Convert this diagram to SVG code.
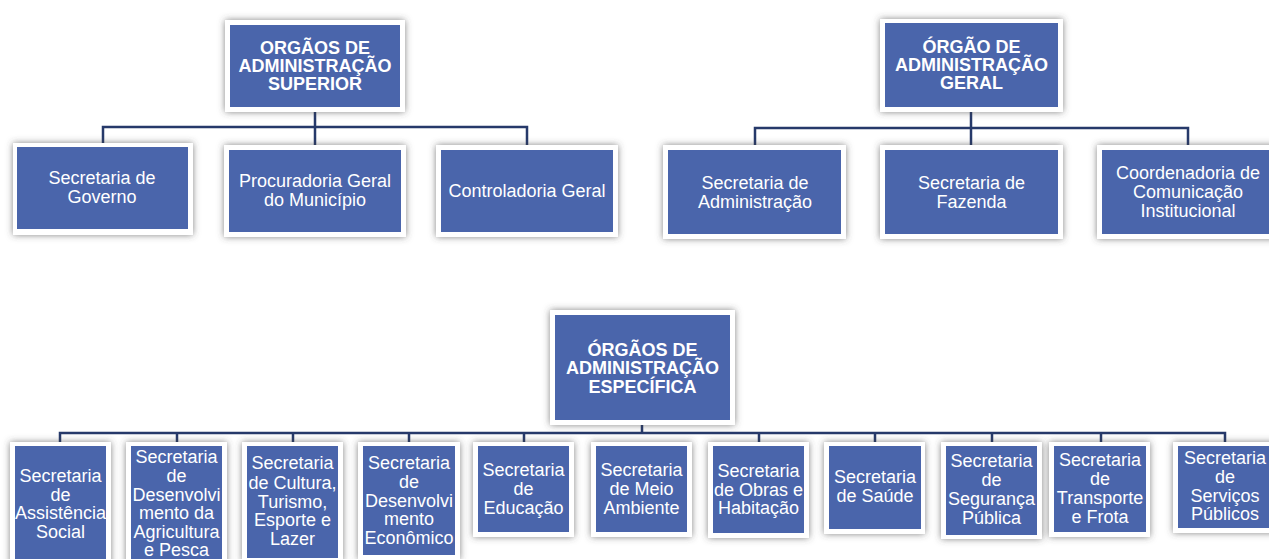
<svg xmlns="http://www.w3.org/2000/svg" width="1269" height="559" viewBox="0 0 1269 559">
<defs>
<filter id="sh" x="-20%" y="-20%" width="140%" height="140%">
<feDropShadow dx="0" dy="0" stdDeviation="3.5" flood-color="#444" flood-opacity="0.65"/>
</filter>
<style>
.frame{fill:#ffffff;filter:url(#sh)}
.box{fill:#4A65AB}
.t{font-family:"Liberation Sans",Arial,sans-serif;font-size:18px;fill:#ffffff;text-anchor:middle}
.b{font-weight:bold}
.ln{stroke:#26396A;stroke-width:2.5;fill:none}
</style>
</defs>
<rect width="1269" height="559" fill="#ffffff"/>
<g id="connectors">
<path class="ln" d="M315 112V127M103 145V127H527V145M315 127V145"/>
<path class="ln" d="M971 112V128M755 146V128H1188V146M971 128V146"/>
<path class="ln" d="M642 425V433M60 442V433H1225V442M177 433V442M293 433V442M409 433V442M524 433V442M759 433V442M875 433V442M992 433V442M1101 433V442"/>
</g>
<g id="n-superior">
<rect class="frame" x="225" y="20" width="180" height="92"/>
<rect class="box" x="230" y="25" width="170" height="82"/>
<text class="t b" x="315" y="54">ORGÃOS DE</text>
<text class="t b" x="315" y="72">ADMINISTRAÇÃO</text>
<text class="t b" x="315" y="90">SUPERIOR</text>
</g>
<g id="n-governo">
<rect class="frame" x="13" y="143" width="180" height="92"/>
<rect class="box" x="17" y="147" width="171" height="82"/>
<text class="t" x="102" y="184">Secretaria de</text>
<text class="t" x="102" y="203">Governo</text>
</g>
<g id="n-procuradoria">
<rect class="frame" x="224" y="145" width="182" height="92"/>
<rect class="box" x="229" y="150" width="172" height="82"/>
<text class="t" x="315" y="187">Procuradoria Geral</text>
<text class="t" x="315" y="206">do Município</text>
</g>
<g id="n-controladoria">
<rect class="frame" x="436" y="145" width="182" height="92"/>
<rect class="box" x="441" y="150" width="172" height="82"/>
<text class="t" x="527" y="197">Controladoria Geral</text>
</g>
<g id="n-geral">
<rect class="frame" x="880" y="19" width="183" height="93"/>
<rect class="box" x="885" y="23" width="173" height="84"/>
<text class="t b" x="971.5" y="53">ÓRGÃO DE</text>
<text class="t b" x="971.5" y="71">ADMINISTRAÇÃO</text>
<text class="t b" x="971.5" y="89">GERAL</text>
</g>
<g id="n-administracao">
<rect class="frame" x="663" y="145" width="183" height="94"/>
<rect class="box" x="668" y="150" width="173" height="84"/>
<text class="t" x="755" y="189">Secretaria de</text>
<text class="t" x="755" y="208">Administração</text>
</g>
<g id="n-fazenda">
<rect class="frame" x="880" y="145" width="183" height="94"/>
<rect class="box" x="885" y="150" width="173" height="84"/>
<text class="t" x="971.5" y="189">Secretaria de</text>
<text class="t" x="971.5" y="208">Fazenda</text>
</g>
<g id="n-comunicacao">
<rect class="frame" x="1097" y="145" width="183" height="94"/>
<rect class="box" x="1102" y="150" width="173" height="84"/>
<text class="t" x="1188" y="179">Coordenadoria de</text>
<text class="t" x="1188" y="198">Comunicação</text>
<text class="t" x="1188" y="217">Institucional</text>
</g>
<g id="n-especifica">
<rect class="frame" x="550" y="310" width="185" height="115"/>
<rect class="box" x="555" y="315" width="175" height="105"/>
<text class="t b" x="642.5" y="356">ÓRGÃOS DE</text>
<text class="t b" x="642.5" y="374">ADMINISTRAÇÃO</text>
<text class="t b" x="642.5" y="393">ESPECÍFICA</text>
</g>
<g id="n-assistencia">
<rect class="frame" x="10" y="442" width="101" height="125"/>
<rect class="box" x="15" y="446" width="91" height="120"/>
<text class="t" x="60.5" y="482">Secretaria</text>
<text class="t" x="60.5" y="501">de</text>
<text class="t" x="60.5" y="519">Assistência</text>
<text class="t" x="60.5" y="538">Social</text>
</g>
<g id="n-agricultura">
<rect class="frame" x="126" y="442" width="101" height="125"/>
<rect class="box" x="131" y="446" width="91" height="120"/>
<text class="t" x="176.5" y="463">Secretaria</text>
<text class="t" x="176.5" y="482">de</text>
<text class="t" x="176.5" y="501">Desenvolvi</text>
<text class="t" x="176.5" y="519">mento da</text>
<text class="t" x="176.5" y="538">Agricultura</text>
<text class="t" x="176.5" y="556">e Pesca</text>
</g>
<g id="n-cultura">
<rect class="frame" x="242" y="442" width="101" height="120"/>
<rect class="box" x="247" y="446" width="91" height="112"/>
<text class="t" x="292.5" y="469">Secretaria</text>
<text class="t" x="292.5" y="489">de Cultura,</text>
<text class="t" x="292.5" y="508">Turismo,</text>
<text class="t" x="292.5" y="526">Esporte e</text>
<text class="t" x="292.5" y="545">Lazer</text>
</g>
<g id="n-economico">
<rect class="frame" x="358" y="442" width="102" height="118"/>
<rect class="box" x="363" y="446" width="92" height="109"/>
<text class="t" x="409" y="469">Secretaria</text>
<text class="t" x="409" y="488">de</text>
<text class="t" x="409" y="507">Desenvolvi</text>
<text class="t" x="409" y="525">mento</text>
<text class="t" x="409" y="544">Econômico</text>
</g>
<g id="n-educacao">
<rect class="frame" x="473" y="442" width="101" height="95"/>
<rect class="box" x="478" y="446" width="91" height="86"/>
<text class="t" x="523.5" y="476">Secretaria</text>
<text class="t" x="523.5" y="495">de</text>
<text class="t" x="523.5" y="514">Educação</text>
</g>
<g id="n-meioambiente">
<rect class="frame" x="591" y="442" width="101" height="95"/>
<rect class="box" x="596" y="446" width="91" height="86"/>
<text class="t" x="641.5" y="476">Secretaria</text>
<text class="t" x="641.5" y="495">de Meio</text>
<text class="t" x="641.5" y="514">Ambiente</text>
</g>
<g id="n-obras">
<rect class="frame" x="708" y="442" width="101" height="96"/>
<rect class="box" x="713" y="446" width="91" height="87"/>
<text class="t" x="758.5" y="477">Secretaria</text>
<text class="t" x="758.5" y="496">de Obras e</text>
<text class="t" x="758.5" y="514">Habitação</text>
</g>
<g id="n-saude">
<rect class="frame" x="824" y="442" width="101" height="92"/>
<rect class="box" x="829" y="446" width="92" height="83"/>
<text class="t" x="875" y="483">Secretaria</text>
<text class="t" x="875" y="502">de Saúde</text>
</g>
<g id="n-seguranca">
<rect class="frame" x="941" y="442" width="101" height="97"/>
<rect class="box" x="946" y="446" width="91" height="89"/>
<text class="t" x="991.5" y="467">Secretaria</text>
<text class="t" x="991.5" y="486">de</text>
<text class="t" x="991.5" y="505">Segurança</text>
<text class="t" x="991.5" y="524">Pública</text>
</g>
<g id="n-transporte">
<rect class="frame" x="1049" y="442" width="101" height="95"/>
<rect class="box" x="1054" y="446" width="92" height="86"/>
<text class="t" x="1100" y="466">Secretaria</text>
<text class="t" x="1100" y="485">de</text>
<text class="t" x="1100" y="504">Transporte</text>
<text class="t" x="1100" y="523">e Frota</text>
</g>
<g id="n-servicos">
<rect class="frame" x="1173" y="442" width="104" height="91"/>
<rect class="box" x="1178" y="446" width="94" height="82"/>
<text class="t" x="1225" y="464">Secretaria</text>
<text class="t" x="1225" y="483">de</text>
<text class="t" x="1225" y="502">Serviços</text>
<text class="t" x="1225" y="520">Públicos</text>
</g>
</svg>
